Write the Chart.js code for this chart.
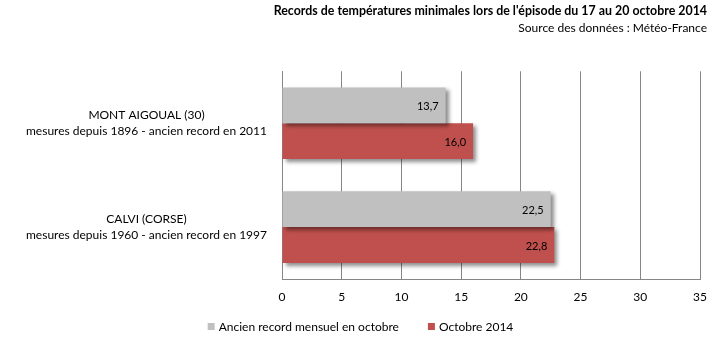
<!DOCTYPE html>
<html>
<head>
<meta charset="utf-8">
<script src="https://cdn.jsdelivr.net/npm/chart.js@4.4.0/dist/chart.umd.min.js"></script>
<style>
  html, body { margin: 0; padding: 0; background: #fff; }
  #wrap { width: 713px; height: 340px; }
</style>
</head>
<body>
<div id="wrap"><canvas id="chart" width="713" height="340"></canvas></div>
<script>
// Data
var stations = [
  ["MONT AIGOUAL (30)", "mesures depuis 1896 - ancien record en 2011"],
  ["CALVI (CORSE)", "mesures depuis 1960 - ancien record en 1997"]
];
var seriesNames = ["Ancien record mensuel en octobre", "Octobre 2014"];
var ancienRecord = [13.7, 22.5];
var octobre2014 = [16.0, 22.8];
var xTicks = [0, 5, 10, 15, 20, 25, 30, 35];

var FONT = "Lato, 'Liberation Sans', sans-serif";
var GRID = "#868686";

// Soft drop shadow behind the bars
var barShadow = {
  id: "barShadow",
  beforeDatasetsDraw: function (chart) {
    var ctx = chart.ctx;
    ctx.save();
    ctx.shadowColor = "rgba(0,0,0,0.45)";
    ctx.shadowBlur = 4;
    ctx.shadowOffsetX = 3;
    ctx.shadowOffsetY = 3;
  },
  afterDatasetsDraw: function (chart) {
    chart.ctx.restore();
  }
};

// Value labels inside the end of each bar, with a decimal comma
var valueLabels = {
  id: "valueLabels",
  afterDatasetsDraw: function (chart) {
    var ctx = chart.ctx;
    ctx.save();
    ctx.font = "11px " + FONT;
    ctx.fillStyle = "#000";
    ctx.textAlign = "right";
    ctx.textBaseline = "middle";
    chart.data.datasets.forEach(function (ds, i) {
      chart.getDatasetMeta(i).data.forEach(function (bar, j) {
        var txt = ds.data[j].toFixed(1).replace(".", ",");
        ctx.fillText(txt, bar.x - 7, bar.y + 1);
      });
    });
    ctx.restore();
  }
};

// Bottom legend: small square swatches, wide gap between the two items
var bottomLegend = {
  id: "bottomLegend",
  afterDraw: function (chart) {
    var ctx = chart.ctx;
    var box = 7, gap = 4, between = 29, y = 327;
    ctx.save();
    ctx.font = "12px " + FONT;
    ctx.textBaseline = "middle";
    var items = chart.data.datasets.map(function (ds) {
      return { text: ds.label, color: ds.backgroundColor, w: ctx.measureText(ds.label).width };
    });
    var total = items.reduce(function (s, it) { return s + box + gap + it.w; }, 0) +
      between * (items.length - 1);
    var x = chart.width / 2 - total / 2 + 4;
    items.forEach(function (it) {
      ctx.fillStyle = it.color;
      ctx.fillRect(x, y - 4, box, box);
      ctx.fillStyle = "#000";
      ctx.textAlign = "left";
      ctx.fillText(it.text, x + box + gap, y);
      x += box + gap + it.w + between;
    });
    ctx.restore();
  }
};

new Chart(document.getElementById("chart"), {
  type: "bar",
  data: {
    labels: stations,
    datasets: [
      { label: seriesNames[0], data: ancienRecord, backgroundColor: "#C0C0C0" },
      { label: seriesNames[1], data: octobre2014, backgroundColor: "#C0504D" }
    ]
  },
  options: {
    indexAxis: "y",
    responsive: false,
    animation: false,
    devicePixelRatio: 1,
    layout: { padding: { left: 0, right: 6, top: 0, bottom: 31 } },
    datasets: {
      bar: { barPercentage: 1.0, categoryPercentage: 0.69, borderWidth: 0 }
    },
    scales: {
      x: {
        min: 0,
        max: 35,
        afterBuildTicks: function (axis) {
          axis.ticks = xTicks.map(function (v) { return { value: v }; });
        },
        grid: { color: GRID, lineWidth: 1, drawTicks: false },
        border: { color: GRID, width: 1 },
        ticks: { color: "#000", font: { family: FONT, size: 12 }, padding: 11 },
        afterFit: function (axis) {
          axis.height = 30;
          axis.paddingRight = 13;
        }
      },
      y: {
        grid: { display: false },
        border: { color: GRID, width: 1 },
        ticks: {
          color: "#000",
          font: { family: FONT, size: 12, lineHeight: 1.33 },
          crossAlign: "center",
          padding: 7
        },
        afterFit: function (axis) { axis.width = 282; }
      }
    },
    plugins: {
      title: {
        display: true,
        text: "Records de températures minimales lors de l'épisode du 17 au 20 octobre 2014",
        align: "end",
        color: "#000",
        font: { family: FONT, size: 12.4, weight: "bold" },
        padding: { top: 4, bottom: 2 }
      },
      subtitle: {
        display: true,
        text: "Source des données : Météo-France",
        align: "end",
        color: "#000",
        font: { family: FONT, size: 12 },
        padding: { top: 0, bottom: 36 }
      },
      legend: { display: false },
      tooltip: { enabled: false }
    }
  },
  plugins: [barShadow, valueLabels, bottomLegend]
});
</script>
</body>
</html>
